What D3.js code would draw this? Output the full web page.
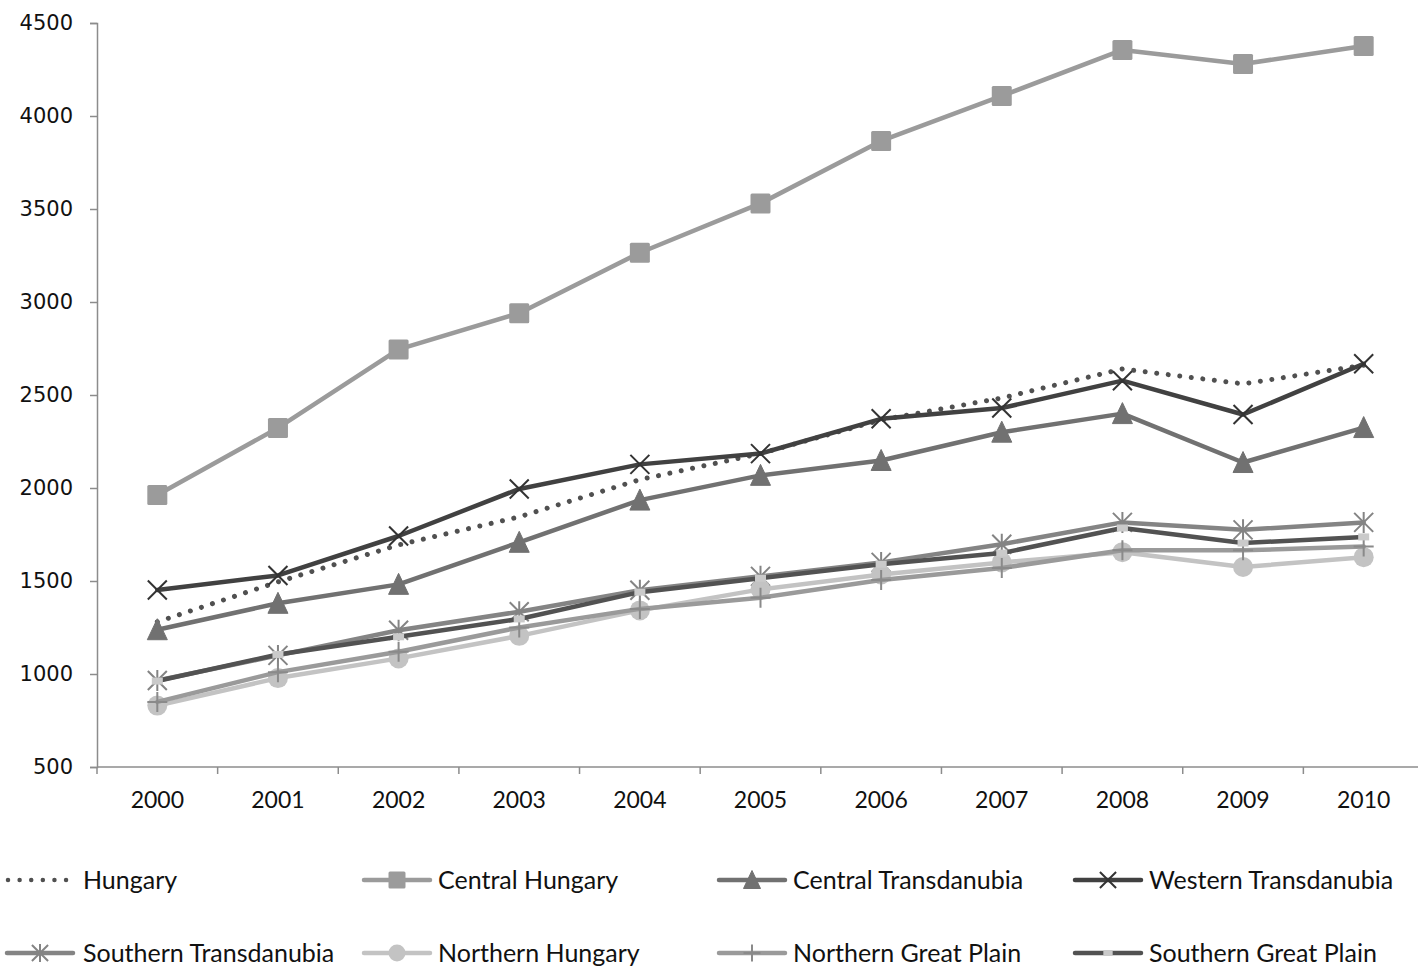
<!DOCTYPE html>
<html>
<head>
<meta charset="utf-8">
<script src="https://cdn.jsdelivr.net/npm/d3@7"></script>
<style>
  html, body { margin: 0; padding: 0; background: #fff; }
  svg { display: block; }
</style>
</head>
<body>
<svg id="chart" width="1418" height="966"></svg>
<script>
const years = ["2000","2001","2002","2003","2004","2005","2006","2007","2008","2009","2010"];
const yTicks = [500,1000,1500,2000,2500,3000,3500,4000,4500];

const hungary              = [1280, 1495, 1694, 1845, 2045, 2185, 2366, 2484, 2640, 2560, 2660];
const centralHungary       = [1962, 2323, 2745, 2940, 3265, 3530, 3866, 4108, 4355, 4280, 4376];
const centralTransdanubia  = [1238, 1380, 1482, 1708, 1935, 2068, 2148, 2300, 2400, 2137, 2325];
const westernTransdanubia  = [1452, 1530, 1742, 1995, 2127, 2185, 2372, 2430, 2577, 2395, 2668];
const southernTransdanubia = [965, 1100, 1235, 1335, 1450, 1525, 1600, 1698, 1815, 1775, 1815];
const northernHungary      = [830, 978, 1084, 1205, 1342, 1455, 1535, 1600, 1655, 1575, 1628];
const northernGreatPlain   = [850, 1010, 1120, 1250, 1350, 1410, 1505, 1570, 1665, 1665, 1685];
const southernGreatPlain   = [962, 1105, 1200, 1296, 1440, 1515, 1590, 1650, 1785, 1704, 1737];

const seriesNames = ["Hungary","Central Hungary","Central Transdanubia","Western Transdanubia",
  "Southern Transdanubia","Northern Hungary","Northern Great Plain","Southern Great Plain"];
const seriesValues = [hungary, centralHungary, centralTransdanubia, westernTransdanubia,
  southernTransdanubia, northernHungary, northernGreatPlain, southernGreatPlain];

const styles = [
  {color:"#505050", marker:"none", dotted:true},
  {color:"#9b9b9b", marker:"square"},
  {color:"#717171", marker:"triangle"},
  {color:"#414141", marker:"x"},
  {color:"#848484", marker:"asterisk"},
  {color:"#c3c3c3", marker:"circle"},
  {color:"#9a9a9a", marker:"plus"},
  {color:"#525252", marker:"smallrect"}
];

const svg = d3.select("#chart");
const plotLeft = 97, plotBottom = 767, plotTop = 23, plotRight = 1424;

const x = d3.scalePoint().domain(years).range([plotLeft, plotRight]).padding(0.5);
const band = d3.scaleBand().domain(years).range([plotLeft, plotRight]);
const y = d3.scaleLinear().domain([500, 4500]).range([plotBottom, plotTop]);

const axisColor = "#8c8c8c";

// Y axis
const yAxis = d3.axisLeft(y).tickValues(yTicks).tickSize(7).tickPadding(17).tickFormat(d3.format("d"));
const gy = svg.append("g").attr("transform", `translate(${plotLeft},0)`).call(yAxis);
gy.select(".domain").attr("stroke", axisColor).attr("stroke-width", 1.5);
gy.selectAll(".tick line").attr("stroke", axisColor).attr("stroke-width", 1.5);
gy.selectAll(".tick text").attr("font-family", "'DejaVu Sans', Verdana, sans-serif")
  .attr("font-size", 21).attr("fill", "#111");

// X axis
const gx = svg.append("g").attr("transform", `translate(0,${plotBottom})`);
gx.append("line").attr("x1", plotLeft).attr("x2", 1418).attr("y1", 0).attr("y2", 0)
  .attr("stroke", axisColor).attr("stroke-width", 1.5);
const boundaries = years.map(d => band(d)).concat([band(years[years.length-1]) + band.bandwidth()]);
gx.selectAll("line.tk").data(boundaries).join("line").attr("class","tk")
  .attr("x1", d => d).attr("x2", d => d).attr("y1", 0).attr("y2", 7)
  .attr("stroke", axisColor).attr("stroke-width", 1.5);
gx.selectAll("text").data(years).join("text")
  .attr("x", d => x(d)).attr("y", 41).attr("text-anchor", "middle")
  .attr("font-family", "Lato, 'Open Sans', sans-serif").attr("font-size", 23).attr("fill", "#111")
  .text(d => d);

function drawMarker(g, type, cx, cy, color, scale) {
  const s = scale || 1;
  if (type === "square") {
    g.append("rect").attr("x", cx-10*s).attr("y", cy-10*s).attr("width", 20*s).attr("height", 20*s)
      .attr("rx", 1.5).attr("fill", "#9b9b9b");
  } else if (type === "triangle") {
    const h = 10*s;
    g.append("path").attr("d", `M${cx},${cy-h-1}L${cx+h},${cy+h}L${cx-h},${cy+h}Z`)
      .attr("fill", "#717171").attr("stroke","#717171").attr("stroke-width",1).attr("stroke-linejoin","round");
  } else if (type === "x") {
    const h = 9.5*s;
    g.append("path").attr("d", `M${cx-h},${cy-h}L${cx+h},${cy+h}M${cx-h},${cy+h}L${cx+h},${cy-h}`)
      .attr("stroke", "#333").attr("stroke-width", 2).attr("fill","none");
  } else if (type === "asterisk") {
    const h = 9.5*s;
    g.append("path").attr("d", `M${cx-h},${cy-h}L${cx+h},${cy+h}M${cx-h},${cy+h}L${cx+h},${cy-h}M${cx},${cy-h-1}L${cx},${cy+h+1}`)
      .attr("stroke", "#848484").attr("stroke-width", 2).attr("fill","none");
  } else if (type === "circle") {
    g.append("circle").attr("cx", cx).attr("cy", cy).attr("r", 10*s).attr("fill", "#c3c3c3");
  } else if (type === "plus") {
    const h = 10*s;
    g.append("path").attr("d", `M${cx},${cy-h}L${cx},${cy+h}M${cx-h},${cy}L${cx+h},${cy}`)
      .attr("stroke", "#8a8a8a").attr("stroke-width", 2).attr("fill","none");
  } else if (type === "smallrect") {
    g.append("rect").attr("x", cx-5.5*s).attr("y", cy-3.5*s).attr("width", 11*s).attr("height", 7*s)
      .attr("fill", "#cacaca");
  }
}

const line = d3.line().x((d,i) => x(years[i])).y(d => y(d));

const plot = svg.append("g");
seriesValues.forEach((vals, si) => {
  const st = styles[si];
  const g = plot.append("g");
  const p = g.append("path").datum(vals).attr("d", line).attr("fill", "none")
    .attr("stroke", st.color).attr("stroke-linejoin", "round");
  if (st.dotted) {
    p.attr("stroke-width", 5).attr("stroke-dasharray", "0.01 11.6").attr("stroke-linecap", "round");
  } else {
    p.attr("stroke-width", 4.5).attr("stroke-linecap", "round");
  }
  vals.forEach((v, i) => drawMarker(g, st.marker, x(years[i]), y(v), st.color, 1));
});

// Legend
const legendCols = [5, 362, 717, 1073];
const legendRows = [880, 953];
const legend = svg.append("g");
seriesNames.forEach((name, i) => {
  const st = styles[i];
  const lx = legendCols[i % 4];
  const ly = legendRows[Math.floor(i / 4)];
  const g = legend.append("g");
  if (st.dotted) {
    g.append("line").attr("x1", lx + 3).attr("x2", lx + 66).attr("y1", ly).attr("y2", ly)
      .attr("stroke", st.color).attr("stroke-width", 4.5).attr("stroke-dasharray", "0.01 11.6")
      .attr("stroke-linecap", "round");
  } else {
    g.append("line").attr("x1", lx + 2).attr("x2", lx + 68).attr("y1", ly).attr("y2", ly)
      .attr("stroke", st.color).attr("stroke-width", 4.5).attr("stroke-linecap", "round");
    drawMarker(g, st.marker, lx + 35, ly, st.color, 0.85);
  }
  g.append("text").attr("x", lx + (i % 4 === 0 ? 78 : 76)).attr("y", ly + 8.5)
    .attr("font-family", "Lato, 'Open Sans', sans-serif").attr("font-size", 25).attr("fill", "#111")
    .text(name);
});
</script>
</body>
</html>
